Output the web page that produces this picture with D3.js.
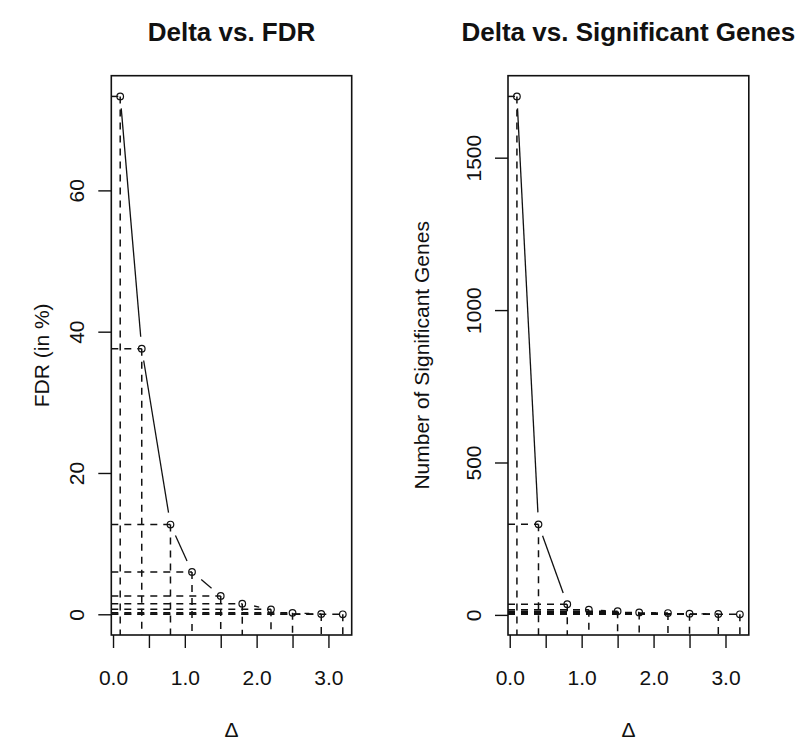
<!DOCTYPE html>
<html>
<head>
<meta charset="utf-8">
<script src="https://cdn.jsdelivr.net/npm/d3@7"></script>
<style>
  body { margin: 0; background: #fff; }
  text { font-family: "Liberation Sans", Arial, sans-serif; fill: #111; }
</style>
</head>
<body>
<div id="chart-area"></div>
<script>
// SAM delta plot: FDR and number of significant genes per delta
const delta = [0.1, 0.4, 0.8, 1.1, 1.5, 1.8, 2.2, 2.5, 2.9, 3.2];
const fdr = [73.3, 37.6, 12.7, 6.0, 2.6, 1.5, 0.7, 0.2, 0.05, 0];
const sigGenes = [1701, 297, 35, 17, 12, 8, 6, 4, 3, 2];

const xTicks = [0, 0.5, 1, 1.5, 2, 2.5, 3];
const fdrTicks = [0, 20, 40, 60];
const geneTicks = [0, 500, 1000, 1500];

const titles = ['Delta vs. FDR', 'Delta vs. Significant Genes'];
const yLabels = ['FDR (in %)', 'Number of Significant Genes'];

const width = 804;
const height = 742;
const plotTop = 75.7, plotBottom = 635;
const tickLen = 13;
const gap = 12; // type="b" gap around points

const svg = d3.select('#chart-area')
  .append('svg')
    .attr('width', width)
    .attr('height', height);

svg.append('rect')
  .attr('width', width)
  .attr('height', height)
  .attr('fill', '#fff');

// R style 4% padding
const pad = ext => {
  const r = ext[1] - ext[0];
  return [ext[0] - 0.04 * r, ext[1] + 0.04 * r];
};

const panels = [
  { values: fdr, ticks: fdrTicks, left: 111.3, right: 351.7, title: titles[0], ylab: yLabels[0], ylabX: 42 },
  { values: sigGenes, ticks: geneTicks, left: 508, right: 748.8, title: titles[1], ylab: yLabels[1], ylabX: 421.5 }
];

panels.forEach(p => {
  const x = d3.scaleLinear()
    .domain(pad(d3.extent(delta)))
    .range([p.left, p.right]);

  const y = d3.scaleLinear()
    .domain(pad(d3.extent(p.values)))
    .range([plotBottom, plotTop]);

  const g = svg.append('g');
  const pts = delta.map((d, i) => [x(d), y(p.values[i])]);

  // dashed guides
  pts.forEach(([px, py]) => {
    g.append('line')
      .attr('x1', px).attr('y1', py)
      .attr('x2', px).attr('y2', plotBottom)
      .attr('stroke', '#111')
      .attr('stroke-width', 1.5)
      .attr('stroke-dasharray', '7,6');
    g.append('line')
      .attr('x1', p.left).attr('y1', py)
      .attr('x2', px).attr('y2', py)
      .attr('stroke', '#111')
      .attr('stroke-width', 1.5)
      .attr('stroke-dasharray', '7,6');
  });

  // line segments with gaps
  for (let i = 0; i < pts.length - 1; i++) {
    const [x0, y0] = pts[i], [x1, y1] = pts[i + 1];
    const len = Math.hypot(x1 - x0, y1 - y0);
    if (len <= 2 * gap) continue;
    const ux = (x1 - x0) / len, uy = (y1 - y0) / len;
    g.append('line')
      .attr('x1', x0 + ux * gap).attr('y1', y0 + uy * gap)
      .attr('x2', x1 - ux * gap).attr('y2', y1 - uy * gap)
      .attr('stroke', '#111')
      .attr('stroke-width', 1.3);
  }

  g.selectAll('circle')
    .data(pts)
    .enter()
    .append('circle')
      .attr('cx', d => d[0])
      .attr('cy', d => d[1])
      .attr('r', 3.3)
      .attr('fill', 'none')
      .attr('stroke', '#111')
      .attr('stroke-width', 1.2);

  // box
  g.append('rect')
    .attr('x', p.left)
    .attr('y', plotTop)
    .attr('width', p.right - p.left)
    .attr('height', plotBottom - plotTop)
    .attr('fill', 'none')
    .attr('stroke', '#111')
    .attr('stroke-width', 1.6);

  const xAxis = d3.axisBottom(x)
    .tickValues(xTicks)
    .tickSize(tickLen)
    .tickFormat(d => Number.isInteger(d) ? d3.format('.1f')(d) : '');

  const xg = svg.append('g')
    .attr('transform', 'translate(0,' + plotBottom + ')')
    .call(xAxis);
  xg.select('.domain').remove();
  xg.selectAll('line').attr('stroke', '#111').attr('stroke-width', 1.4);
  xg.selectAll('text')
    .attr('y', 49.5)
    .attr('dy', 0)
    .attr('font-size', 21)
    .attr('font-family', 'Liberation Sans, Arial, sans-serif')
    .attr('fill', '#333');

  const yAxis = d3.axisLeft(y)
    .tickValues(p.ticks)
    .tickSize(tickLen)
    .tickFormat(d3.format('d'));

  const yg = svg.append('g')
    .attr('transform', 'translate(' + p.left + ',0)')
    .call(yAxis);
  yg.select('.domain').remove();
  yg.selectAll('line').attr('stroke', '#111').attr('stroke-width', 1.4);
  yg.selectAll('text')
    .attr('x', 0)
    .attr('dy', 0)
    .attr('text-anchor', 'middle')
    .attr('transform', 'translate(-27,0) rotate(-90)')
    .attr('font-size', 21)
    .attr('font-family', 'Liberation Sans, Arial, sans-serif')
    .attr('fill', '#333');

  // titles
  svg.append('text')
    .attr('x', (p.left + p.right) / 2)
    .attr('y', 41)
    .attr('text-anchor', 'middle')
    .attr('font-size', 26)
    .attr('font-weight', 'bold')
    .attr('fill', '#000')
    .text(p.title);

  svg.append('text')
    .attr('x', (p.left + p.right) / 2)
    .attr('y', 737)
    .attr('text-anchor', 'middle')
    .attr('font-size', 21)
    .attr('font-family', 'Liberation Serif, serif')
    .attr('fill', '#333')
    .text('Δ');

  svg.append('text')
    .attr('transform', 'translate(' + p.ylabX + ',' + (plotTop + plotBottom) / 2 + ') rotate(-90)')
    .attr('text-anchor', 'middle')
    .attr('dy', '0.35em')
    .attr('font-size', 21)
    .attr('fill', '#333')
    .text(p.ylab);
});
</script>
</body>
</html>
